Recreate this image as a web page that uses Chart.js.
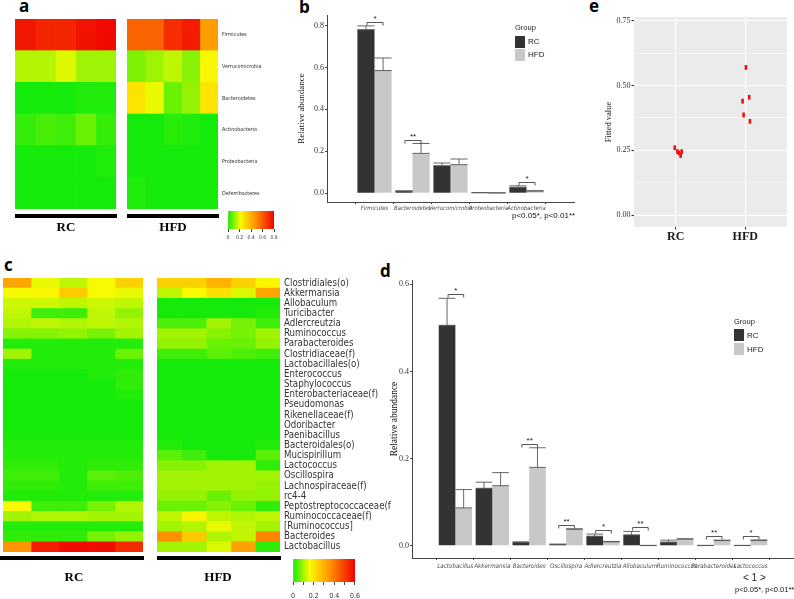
<!DOCTYPE html>
<html>
<head>
<meta charset="utf-8">
<script src="https://cdn.jsdelivr.net/npm/chart.js@4/dist/chart.umd.min.js"></script>
<style>
  body { margin: 0; width: 794px; height: 599px; position: relative; overflow: hidden; background: #fff; font-family: 'Liberation Sans', Arial, sans-serif; }
  canvas { position: absolute; }
  .t { position: absolute; white-space: nowrap; line-height: 1; }
  .panel { font-family: 'Open Sans', sans-serif; font-weight: 700; font-size: 17px; color: #000; }
  .grp { font-family: 'Liberation Serif', serif; font-weight: 700; font-size: 13px; transform: translateX(-50%); }
  .blk { position: absolute; background: #000; height: 4px; }
  .key { position: absolute; width: 10px; height: 12px; }
  .leg { font-size: 8px; color: #222; }
  .pv { font-size: 8px; color: #111; }
</style>
</head>
<body>

<div class="t panel" style="left:19px;top:-3px">a</div>
<div class="t panel" style="left:299px;top:-2px">b</div>
<div class="t panel" style="left:589px;top:-3px">e</div>
<div class="t panel" style="left:4px;top:256px">c</div>
<div class="t panel" style="left:380px;top:262px">d</div>

<canvas id="heatARC" width="101" height="214" style="left:15px;top:7px"></canvas>
<canvas id="heatAHFD" width="148" height="214" style="left:127px;top:7px"></canvas>
<div class="blk" style="left:15px;top:214px;width:102px"></div>
<div class="blk" style="left:127px;top:214px;width:92px"></div>
<div class="t grp" style="left:66px;top:220px">RC</div>
<div class="t grp" style="left:173px;top:220px">HFD</div>
<canvas id="barA" width="62" height="34" style="left:220px;top:211px"></canvas>

<canvas id="phylumBars" width="300" height="215" style="left:290px;top:5px"></canvas>
<div class="t leg" style="left:515px;top:24px;font-size:7.5px">Group</div>
<div class="key" style="left:515px;top:36px;background:#333333"></div>
<div class="key" style="left:515px;top:49px;background:#c8c8c8"></div>
<div class="t leg" style="left:528px;top:38px">RC</div>
<div class="t leg" style="left:528px;top:51px">HFD</div>
<div class="t pv" style="left:512px;top:212px">p&lt;0.05*, p&lt;0.01**</div>

<canvas id="fitted" width="199" height="243" style="left:595px;top:7px"></canvas>

<canvas id="heatCRC" width="140" height="298" style="left:3px;top:266px"></canvas>
<canvas id="heatCHFD" width="235" height="298" style="left:157px;top:266px"></canvas>
<div class="blk" style="left:0px;top:556px;width:144px"></div>
<div class="blk" style="left:157px;top:556px;width:124px"></div>
<div class="t grp" style="left:74px;top:570px">RC</div>
<div class="t grp" style="left:218px;top:570px">HFD</div>
<canvas id="barC" width="84" height="40" style="left:283px;top:559px"></canvas>

<canvas id="genusBars" width="414" height="329" style="left:380px;top:270px"></canvas>
<div class="t leg" style="left:734px;top:318px;font-size:7.5px">Group</div>
<div class="key" style="left:734px;top:329px;background:#333333"></div>
<div class="key" style="left:734px;top:343px;background:#c8c8c8"></div>
<div class="t leg" style="left:747px;top:332px">RC</div>
<div class="t leg" style="left:747px;top:346px">HFD</div>
<div class="t" style="left:743px;top:573px;font-size:10px;color:#222">&lt; 1 &gt;</div>
<div class="t pv" style="left:735px;top:586px;font-size:7.5px">p&lt;0.05*, p&lt;0.01**</div>

<script>
// ---- panel a: phylum heatmap (5 mice per group) ----
const phyla = ['Firmicutes', 'Verrucomicrobia', 'Bacteroidetes', 'Actinobacteria', 'Proteobacteria', 'Deferribacteres'];
const phylaRC = [
  [0.75, 0.72, 0.72, 0.76, 0.78],
  [0.15, 0.15, 0.19, 0.13, 0.13],
  [0.00, 0.00, 0.00, 0.01, 0.01],
  [0.03, 0.05, 0.04, 0.08, 0.03],
  [0.00, 0.00, 0.00, 0.00, 0.01],
  [0.00, 0.00, 0.00, 0.00, 0.00]
];
const phylaHFD = [
  [0.58, 0.58, 0.70, 0.74, 0.45],
  [0.10, 0.13, 0.16, 0.11, 0.22],
  [0.27, 0.20, 0.08, 0.12, 0.27],
  [0.00, 0.00, 0.02, 0.01, 0.00],
  [0.00, 0.00, 0.00, 0.00, 0.00],
  [0.01, 0.00, 0.00, 0.00, 0.00]
];
const scaleA = [0, 0.2, 0.4, 0.6, 0.8];

// ---- panel c: genus heatmap ----
const genera = ['Clostridiales(o)', 'Akkermansia', 'Allobaculum', 'Turicibacter', 'Adlercreutzia', 'Ruminococcus',
  'Parabacteroides', 'Clostridiaceae(f)', 'Lactobacillales(o)', 'Enterococcus', 'Staphylococcus',
  'Enterobacteriaceae(f)', 'Pseudomonas', 'Rikenellaceae(f)', 'Odoribacter', 'Paenibacillus', 'Bacteroidales(o)',
  'Mucispirillum', 'Lactococcus', 'Oscillospira', 'Lachnospiraceae(f)', 'rc4-4', 'Peptostreptococcaceae(f',
  'Ruminococcaceae(f)', '[Ruminococcus]', 'Bacteroides', 'Lactobacillus'];
const generaRC = [
  [0.32, 0.15, 0.12, 0.16, 0.24],
  [0.16, 0.17, 0.25, 0.16, 0.15],
  [0.13, 0.13, 0.12, 0.13, 0.12],
  [0.12, 0.03, 0.03, 0.12, 0.09],
  [0.11, 0.12, 0.11, 0.12, 0.11],
  [0.08, 0.08, 0.09, 0.07, 0.10],
  [0.01, 0.01, 0.01, 0.01, 0.01],
  [0.10, 0.01, 0.01, 0.01, 0.06],
  [0.01, 0.01, 0.01, 0.01, 0.01],
  [0.00, 0.00, 0.00, 0.01, 0.02],
  [0.00, 0.00, 0.00, 0.00, 0.02],
  [0.00, 0.00, 0.00, 0.00, 0.01],
  [0.00, 0.00, 0.00, 0.00, 0.00],
  [0.00, 0.00, 0.00, 0.00, 0.00],
  [0.00, 0.00, 0.00, 0.00, 0.00],
  [0.00, 0.00, 0.00, 0.00, 0.00],
  [0.01, 0.01, 0.01, 0.01, 0.01],
  [0.01, 0.01, 0.01, 0.01, 0.01],
  [0.02, 0.02, 0.01, 0.02, 0.02],
  [0.03, 0.03, 0.01, 0.05, 0.04],
  [0.02, 0.02, 0.01, 0.03, 0.03],
  [0.01, 0.01, 0.01, 0.01, 0.01],
  [0.16, 0.03, 0.03, 0.07, 0.11],
  [0.10, 0.11, 0.11, 0.10, 0.10],
  [0.01, 0.01, 0.01, 0.01, 0.01],
  [0.02, 0.02, 0.02, 0.07, 0.09],
  [0.35, 0.55, 0.58, 0.58, 0.53]
];
const generaHFD = [
  [0.24, 0.24, 0.30, 0.24, 0.17],
  [0.12, 0.16, 0.21, 0.14, 0.32],
  [0.00, 0.00, 0.00, 0.00, 0.00],
  [0.00, 0.00, 0.00, 0.00, 0.01],
  [0.04, 0.04, 0.10, 0.07, 0.03],
  [0.10, 0.10, 0.08, 0.07, 0.10],
  [0.09, 0.09, 0.06, 0.06, 0.09],
  [0.03, 0.03, 0.05, 0.04, 0.03],
  [0.00, 0.00, 0.00, 0.00, 0.00],
  [0.00, 0.00, 0.00, 0.00, 0.00],
  [0.00, 0.00, 0.00, 0.00, 0.00],
  [0.00, 0.00, 0.00, 0.00, 0.00],
  [0.00, 0.00, 0.00, 0.00, 0.00],
  [0.00, 0.00, 0.00, 0.00, 0.00],
  [0.00, 0.00, 0.00, 0.00, 0.00],
  [0.00, 0.00, 0.00, 0.00, 0.00],
  [0.01, 0.00, 0.00, 0.00, 0.01],
  [0.05, 0.03, 0.00, 0.00, 0.05],
  [0.08, 0.08, 0.10, 0.10, 0.02],
  [0.10, 0.10, 0.10, 0.10, 0.10],
  [0.10, 0.10, 0.10, 0.10, 0.09],
  [0.09, 0.09, 0.06, 0.09, 0.09],
  [0.06, 0.06, 0.08, 0.06, 0.02],
  [0.12, 0.17, 0.12, 0.11, 0.12],
  [0.10, 0.11, 0.15, 0.12, 0.10],
  [0.36, 0.25, 0.11, 0.12, 0.38],
  [0.10, 0.10, 0.14, 0.33, 0.02]
];
const scaleC = [0, 0.1, 0.2, 0.3, 0.4, 0.5, 0.6];
const scaleCLabels = ['0', '', '0.2', '', '0.4', '', '0.6'];

// ---- panel b: phylum means (top of error bar = mean + se) ----
const phylumCats = ['Firmicutes', 'Bacteroidetes', 'Verrucomicrobia', 'Proteobacteria', 'Actinobacteria'];
const phylumRC = [0.780, 0.010, 0.131, 0.002, 0.028];
const phylumRCUp = [0.798, 0.011, 0.144, 0.003, 0.035];
const phylumHFD = [0.585, 0.190, 0.136, 0.001, 0.010];
const phylumHFDUp = [0.645, 0.237, 0.163, 0.002, 0.012];
const phylumSig = ['*', '**', '', '', '*'];
const phylumTicks = [0, 0.2, 0.4, 0.6, 0.8];

// ---- panel d: genus means ----
const genusCats = ['Lactobacillus', 'Akkermansia', 'Bacteroides', 'Oscillospira', 'Adlercreutzia', 'Allobaculum',
  'Ruminococcus', 'Parabacteroides', 'Lactococcus'];
const genusRC = [0.506, 0.132, 0.008, 0.003, 0.022, 0.025, 0.0085, 0.0005, 0.0005];
const genusRCUp = [0.568, 0.146, 0.009, 0.004, 0.027, 0.033, 0.013, 0.001, 0.001];
const genusHFD = [0.087, 0.138, 0.180, 0.038, 0.009, 0.0005, 0.0155, 0.012, 0.012];
const genusHFDUp = [0.129, 0.168, 0.225, 0.039, 0.010, 0.001, 0.016, 0.013, 0.0135];
const genusSig = ['*', '', '**', '**', '*', '**', '', '**', '*'];
const genusTicks = [0, 0.2, 0.4, 0.6];

// ---- panel e: fitted values ----
const groups = ['RC', 'HFD'];
const fittedRC = [0.26, 0.245, 0.24, 0.23, 0.245];
const jitterRC = [-0.014, 0.024, 0.048, 0.071, 0.086];
const fittedHFD = [0.57, 0.455, 0.44, 0.387, 0.362];
const jitterHFD = [0.01, 0.057, -0.039, -0.024, 0.067];
const fittedTicks = [0, 0.125, 0.25, 0.375, 0.5, 0.625, 0.75];

const NARROW = "'Liberation Sans Narrow', 'DejaVu Sans Condensed', 'Liberation Sans', sans-serif";
const SERIF = "'Liberation Serif', 'Times New Roman', serif";
const RC_COL = '#333333';
const HFD_COL = '#c8c8c8';

// green -> yellow -> orange -> red
const stops = [[0, [20, 235, 10]], [0.27, [250, 250, 0]], [0.6, [255, 145, 0]], [1, [240, 0, 0]]];
function heatColor(t) {
  t = Math.max(0, Math.min(1, t));
  for (let i = 1; i < stops.length; i++) {
    if (t <= stops[i][0]) {
      const [t0, c0] = stops[i - 1], [t1, c1] = stops[i];
      const f = (t - t0) / (t1 - t0);
      const c = c0.map((v, k) => Math.round(v + (c1[k] - v) * f));
      return `rgb(${c[0]},${c[1]},${c[2]})`;
    }
  }
  return 'rgb(240,0,0)';
}

Chart.defaults.animation = false;
Chart.defaults.responsive = false;
Chart.defaults.plugins.legend.display = false;
Chart.defaults.plugins.tooltip.enabled = false;

function heatmap(id, rows, values, max, labelFont, axisW) {
  new Chart(document.getElementById(id), {
    type: 'bar',
    data: {
      labels: rows,
      datasets: values[0].map((_, s) => ({
        data: rows.map(() => [s, s + 1]),
        backgroundColor: rows.map((_, r) => heatColor(values[r][s] / max)),
        borderWidth: 0,
        grouped: false,
        barPercentage: 1,
        categoryPercentage: 1
      }))
    },
    options: {
      indexAxis: 'y',
      layout: { padding: { top: 12, bottom: 12, left: 0, right: 0 } },
      scales: {
        x: { type: 'linear', min: 0, max: 5, display: false },
        y: {
          position: 'right',
          display: !!labelFont,
          grid: { display: false, drawTicks: false },
          border: { display: false },
          ticks: { autoSkip: false, padding: 4, color: '#333', font: labelFont || {} },
          afterFit: s => { if (axisW) s.width = axisW; }
        }
      }
    }
  });
}

function colorBar(id, ticks, labels, max, fontSize, pad, axisH, tickPad) {
  new Chart(document.getElementById(id), {
    type: 'bar',
    data: {
      labels: [''],
      datasets: [{
        data: [[0, max]],
        borderWidth: 0,
        barPercentage: 1,
        categoryPercentage: 1,
        backgroundColor: ctx => {
          const a = ctx.chart.chartArea;
          if (!a) return '#ff0';
          const g = ctx.chart.ctx.createLinearGradient(a.left, 0, a.right, 0);
          stops.forEach(([t, c]) => g.addColorStop(t, `rgb(${c[0]},${c[1]},${c[2]})`));
          return g;
        }
      }]
    },
    options: {
      indexAxis: 'y',
      layout: { padding: { left: pad, right: pad, top: 0, bottom: 0 } },
      scales: {
        y: { display: false },
        x: {
          type: 'linear', min: 0, max: max,
          afterBuildTicks: s => { s.ticks = ticks.map(v => ({ value: v })); },
          grid: { drawOnChartArea: false, tickLength: 3, color: '#444' },
          border: { display: false },
          ticks: { padding: tickPad, color: '#333', font: { size: fontSize, family: NARROW },
                   autoSkip: false, maxRotation: 0, minRotation: 0,
                   callback: (v, i) => labels[i] },
          afterFit: s => { s.height = axisH; }
        }
      }
    }
  });
}

// error bars + significance brackets, drawn through the chart scales
function errorPlugin(upRC, upHFD, sig) {
  return {
    id: 'errs',
    afterDatasetsDraw(chart) {
      const { ctx, scales: { y } } = chart;
      const ups = [upRC, upHFD];
      ctx.save();
      ctx.strokeStyle = '#555';
      ctx.lineWidth = 0.9;
      ups.forEach((up, di) => {
        chart.getDatasetMeta(di).data.forEach((bar, i) => {
          const w = bar.width, cx = bar.x;
          const yt = y.getPixelForValue(up[i]);
          ctx.beginPath();
          ctx.moveTo(cx - w / 2, yt); ctx.lineTo(cx + w / 2, yt);
          ctx.moveTo(cx, yt); ctx.lineTo(cx, bar.y);
          ctx.moveTo(cx - w / 2, bar.y); ctx.lineTo(cx + w / 2, bar.y);
          ctx.stroke();
        });
      });
      ctx.strokeStyle = '#444';
      ctx.fillStyle = '#111';
      ctx.font = '8px "Liberation Sans"';
      ctx.textAlign = 'center';
      ctx.textBaseline = 'alphabetic';
      sig.forEach((s, i) => {
        if (!s) return;
        const a = chart.getDatasetMeta(0).data[i], b = chart.getDatasetMeta(1).data[i];
        const top = Math.min(y.getPixelForValue(upRC[i]), y.getPixelForValue(upHFD[i]));
        const by = Math.round(top - 4) + 0.5;
        ctx.beginPath();
        ctx.moveTo(a.x + 1, by + 3); ctx.lineTo(a.x + 1, by); ctx.lineTo(b.x, by); ctx.lineTo(b.x, by + 3);
        ctx.stroke();
        ctx.fillText(s, (a.x + b.x) / 2 + 0.5, by - 2);
      });
      ctx.restore();
    }
  };
}

function groupedBars(id, cats, rc, rcUp, hfd, hfdUp, sig, yTicks, yMin, yMax, g) {
  new Chart(document.getElementById(id), {
    type: 'bar',
    data: {
      datasets: [
        { label: 'RC', data: rc.map((v, i) => ({ x: i, y: v })), backgroundColor: RC_COL },
        { label: 'HFD', data: hfd.map((v, i) => ({ x: i, y: v })), backgroundColor: HFD_COL }
      ]
    },
    options: {
      layout: { padding: { top: 10, right: g.right, left: 0, bottom: 0 } },
      datasets: { bar: { categoryPercentage: 0.9, barPercentage: 1, borderWidth: 0 } },
      scales: {
        x: {
          type: 'linear', min: -0.6, max: cats.length - 0.4,
          afterBuildTicks: s => { s.ticks = cats.map((_, i) => ({ value: i })); },
          grid: { drawOnChartArea: false, tickLength: 2, color: '#444' },
          border: { color: '#444', width: 1 },
          ticks: { padding: g.xPad, color: '#4d4d4d', maxRotation: 0, minRotation: 0, autoSkip: false,
                   font: { family: NARROW, style: 'italic', size: g.xSize },
                   callback: v => cats[v] },
          afterFit: s => { s.height = g.xH; }
        },
        y: {
          min: yMin, max: yMax,
          afterBuildTicks: s => { s.ticks = yTicks.map(v => ({ value: v })); },
          grid: { drawOnChartArea: false, tickLength: 2, color: '#444' },
          border: { color: '#444', width: 1 },
          ticks: { padding: 1, color: '#333', font: { family: SERIF, size: 8 }, callback: v => v.toFixed(1) },
          title: { display: true, text: 'Relative abundance', color: '#111',
                   font: { family: SERIF, size: g.titleSize }, padding: { top: g.titlePad } },
          afterFit: s => { s.width = g.yW; }
        }
      }
    },
    plugins: [errorPlugin(rcUp, hfdUp, sig)]
  });
}

heatmap('heatARC', phyla, phylaRC, 0.8, null, 0);
heatmap('heatAHFD', phyla, phylaHFD, 0.8, { family: NARROW, size: 5.4 }, 57);
colorBar('barA', scaleA, scaleA.map(String), 0.8, 5, 8, 16, 3);

heatmap('heatCRC', genera, generaRC, 0.6, null, 0);
heatmap('heatCHFD', genera, generaHFD, 0.6, { family: NARROW, size: 9.6 }, 112);
colorBar('barC', scaleC, scaleCLabels, 0.6, 7, 10, 17, 7);

groupedBars('phylumBars', phylumCats, phylumRC, phylumRCUp, phylumHFD, phylumHFDUp, phylumSig,
  phylumTicks, -0.042, 0.85, { right: 16, xH: 18, xPad: 0.5, xSize: 5.9, yW: 37, titlePad: 6, titleSize: 9 });

groupedBars('genusBars', genusCats, genusRC, genusRCUp, genusHFD, genusHFDUp, genusSig,
  genusTicks, -0.028, 0.61, { right: 0, xH: 41, xPad: 3, xSize: 6.2, yW: 32, titlePad: 9, titleSize: 9.5 });

// panel e: grey ggplot panel
const panelBg = {
  id: 'panelBg',
  beforeDraw(chart) {
    const { ctx, chartArea: a } = chart;
    ctx.save();
    ctx.fillStyle = '#ebebeb';
    ctx.fillRect(a.left, a.top, a.right - a.left, a.bottom - a.top);
    ctx.restore();
  }
};
const isMajor = v => Math.abs(v * 4 - Math.round(v * 4)) < 1e-6;

new Chart(document.getElementById('fitted'), {
  type: 'scatter',
  data: {
    datasets: [
      { data: fittedRC.map((v, i) => ({ x: 1 + jitterRC[i], y: v })) },
      { data: fittedHFD.map((v, i) => ({ x: 2 + jitterHFD[i], y: v })) }
    ]
  },
  options: {
    layout: { padding: { top: 10, right: 7, left: 0, bottom: 0 } },
    elements: {
      point: { pointStyle: 'line', rotation: 90, radius: 2.4, borderWidth: 2.6, borderColor: '#f01010', backgroundColor: '#f01010' }
    },
    scales: {
      x: {
        type: 'linear', min: 0.4, max: 2.6,
        afterBuildTicks: s => { s.ticks = groups.map((_, i) => ({ value: i + 1 })); },
        grid: { color: '#ffffff', lineWidth: 1.1, tickLength: 2.5, tickColor: '#333' },
        border: { display: false },
        ticks: { padding: 0, color: '#1a1a1a', font: { family: SERIF, size: 12, weight: 'bold' },
                 callback: v => groups[v - 1] },
        afterFit: s => { s.height = 23; }
      },
      y: {
        min: -0.046, max: 0.765,
        afterBuildTicks: s => { s.ticks = fittedTicks.map(v => ({ value: v })); },
        grid: {
          color: '#ffffff',
          lineWidth: c => isMajor(c.tick.value) ? 1.1 : 0.5,
          tickLength: 2.5,
          tickColor: c => isMajor(c.tick.value) ? '#333' : 'rgba(0,0,0,0)'
        },
        border: { display: false },
        ticks: { padding: 1, color: '#333', font: { family: SERIF, size: 8 },
                 callback: v => isMajor(v) ? v.toFixed(2) : '' },
        title: { display: true, text: 'Fitted value', color: '#111',
                 font: { family: SERIF, size: 8.5 }, padding: { top: 8.5 } },
        afterFit: s => { s.width = 39; }
      }
    }
  },
  plugins: [panelBg]
});
</script>
</body>
</html>
